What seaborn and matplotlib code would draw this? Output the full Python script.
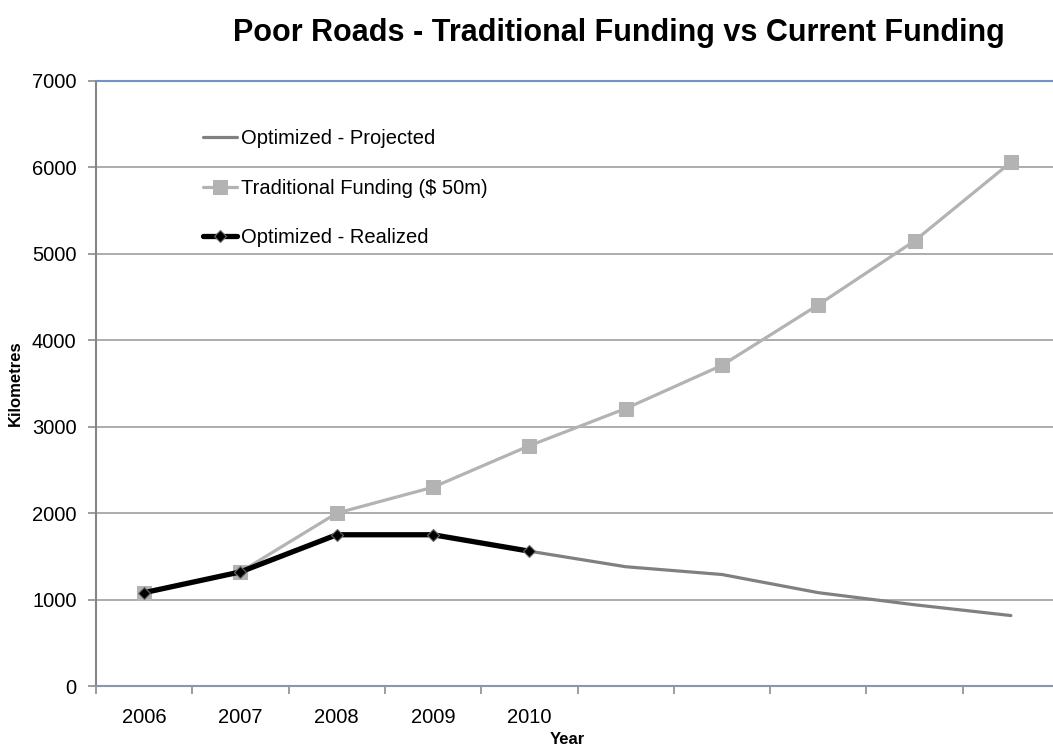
import numpy as np
import pandas as pd
import matplotlib
matplotlib.use("Agg")
import matplotlib.pyplot as plt
import seaborn as sns

# ---- data ----
categories = ["2006", "2007", "2008", "2009", "2010", "", "", "", "", ""]
projected = [1080, 1320, 1750, 1750, 1560, 1380, 1290, 1080, 940, 815]
traditional = [1080, 1320, 2000, 2300, 2780, 3210, 3710, 4410, 5150, 6060]
realized = [1080, 1320, 1750, 1750, 1560]
y_ticks = [0, 1000, 2000, 3000, 4000, 5000, 6000, 7000]

title = "Poor Roads - Traditional Funding vs Current Funding"
lbl_proj = "Optimized - Projected"
lbl_trad = "Traditional Funding ($ 50m)"
lbl_real = "Optimized - Realized"

sns.set_style("white")
plt.rcParams["font.family"] = ["Liberation Sans", "DejaVu Sans"]
plt.rcParams["text.color"] = "black"
plt.rcParams["axes.labelcolor"] = "black"
plt.rcParams["xtick.color"] = "black"
plt.rcParams["ytick.color"] = "black"

fig = plt.figure(figsize=(10.53, 7.5), dpi=100)
W, H = 1053, 750
left, right, top, bottom = 96, 1053, 81, 686
ax = fig.add_axes([left / W, 1 - bottom / H, (right - left) / W, (bottom - top) / H])

x_all = np.arange(len(categories))
df_proj = pd.DataFrame({"x": x_all, "y": projected})
df_trad = pd.DataFrame({"x": x_all, "y": traditional})
df_real = pd.DataFrame({"x": x_all[:len(realized)], "y": realized})

sns.lineplot(data=df_proj, x="x", y="y", ax=ax, color="#808080", linewidth=2.3,
             label=lbl_proj, zorder=3)
sns.lineplot(data=df_trad, x="x", y="y", ax=ax, color="#b3b3b3", linewidth=2.3,
             marker="s", markersize=10, markeredgecolor="#b3b3b3", markerfacecolor="#b3b3b3",
             label=lbl_trad, zorder=4)
sns.lineplot(data=df_real, x="x", y="y", ax=ax, color="#000000", linewidth=3.8,
             marker="D", markersize=6.5, markeredgecolor="#6a6a6a", markeredgewidth=0.8,
             markerfacecolor="#000000", label=lbl_real, zorder=5)

cat_w = 96.3
ax.set_xlim(-0.5, -0.5 + (right - left) / cat_w)
ax.set_ylim(0, 7000)
ax.set_yticks(y_ticks)
ax.set_yticklabels([str(v) for v in y_ticks], fontsize=14.5)

# category boundaries as major ticks, labels on minor ticks at centers
ax.set_xticks(np.arange(len(categories)) - 0.5)
ax.set_xticklabels([])
ax.set_xticks(x_all, minor=True)
ax.set_xticklabels(categories, minor=True, fontsize=14.5)
ax.tick_params(axis="x", which="major", length=6, width=1.2, color="#8c8c8c", direction="out", bottom=True)
ax.tick_params(axis="x", which="minor", length=0, pad=16)
ax.tick_params(axis="y", which="major", length=6, width=1.2, color="#8c8c8c", direction="out", left=True, pad=8)

ax.grid(axis="y", color="#a6a6a6", linewidth=1.3)
ax.grid(axis="x", visible=False)
ax.set_axisbelow(True)

ax.spines["left"].set_color("#868686")
ax.spines["left"].set_linewidth(1.5)
ax.spines["right"].set_visible(False)
ax.spines["top"].set_color("#7094c4")
ax.spines["top"].set_linewidth(1.5)
ax.spines["bottom"].set_color("#8a97aa")
ax.spines["bottom"].set_linewidth(1.5)

ax.set_xlabel("Year", fontsize=12, fontweight="bold")
ax.set_ylabel("Kilometres", fontsize=12, fontweight="bold")
ax.xaxis.set_label_coords((567 - left) / (right - left), -(740 - bottom) / (bottom - top))
ax.xaxis.label.set_va("center")
ax.yaxis.set_label_coords((15 - left) / (right - left), (bottom - 383) / (bottom - top))
ax.yaxis.label.set_va("center")

leg = ax.legend(loc="upper left", bbox_to_anchor=((203 - left) / (right - left), 0.92),
                frameon=False, fontsize=14.5, borderpad=0, handlelength=1.7,
                handletextpad=0.2, labelspacing=1.5, borderaxespad=0)

fig.text(619 / W, 1 - 33 / H, title, ha="center", va="center", fontsize=22, fontweight="bold")

fig.savefig("out.png", dpi=100)
